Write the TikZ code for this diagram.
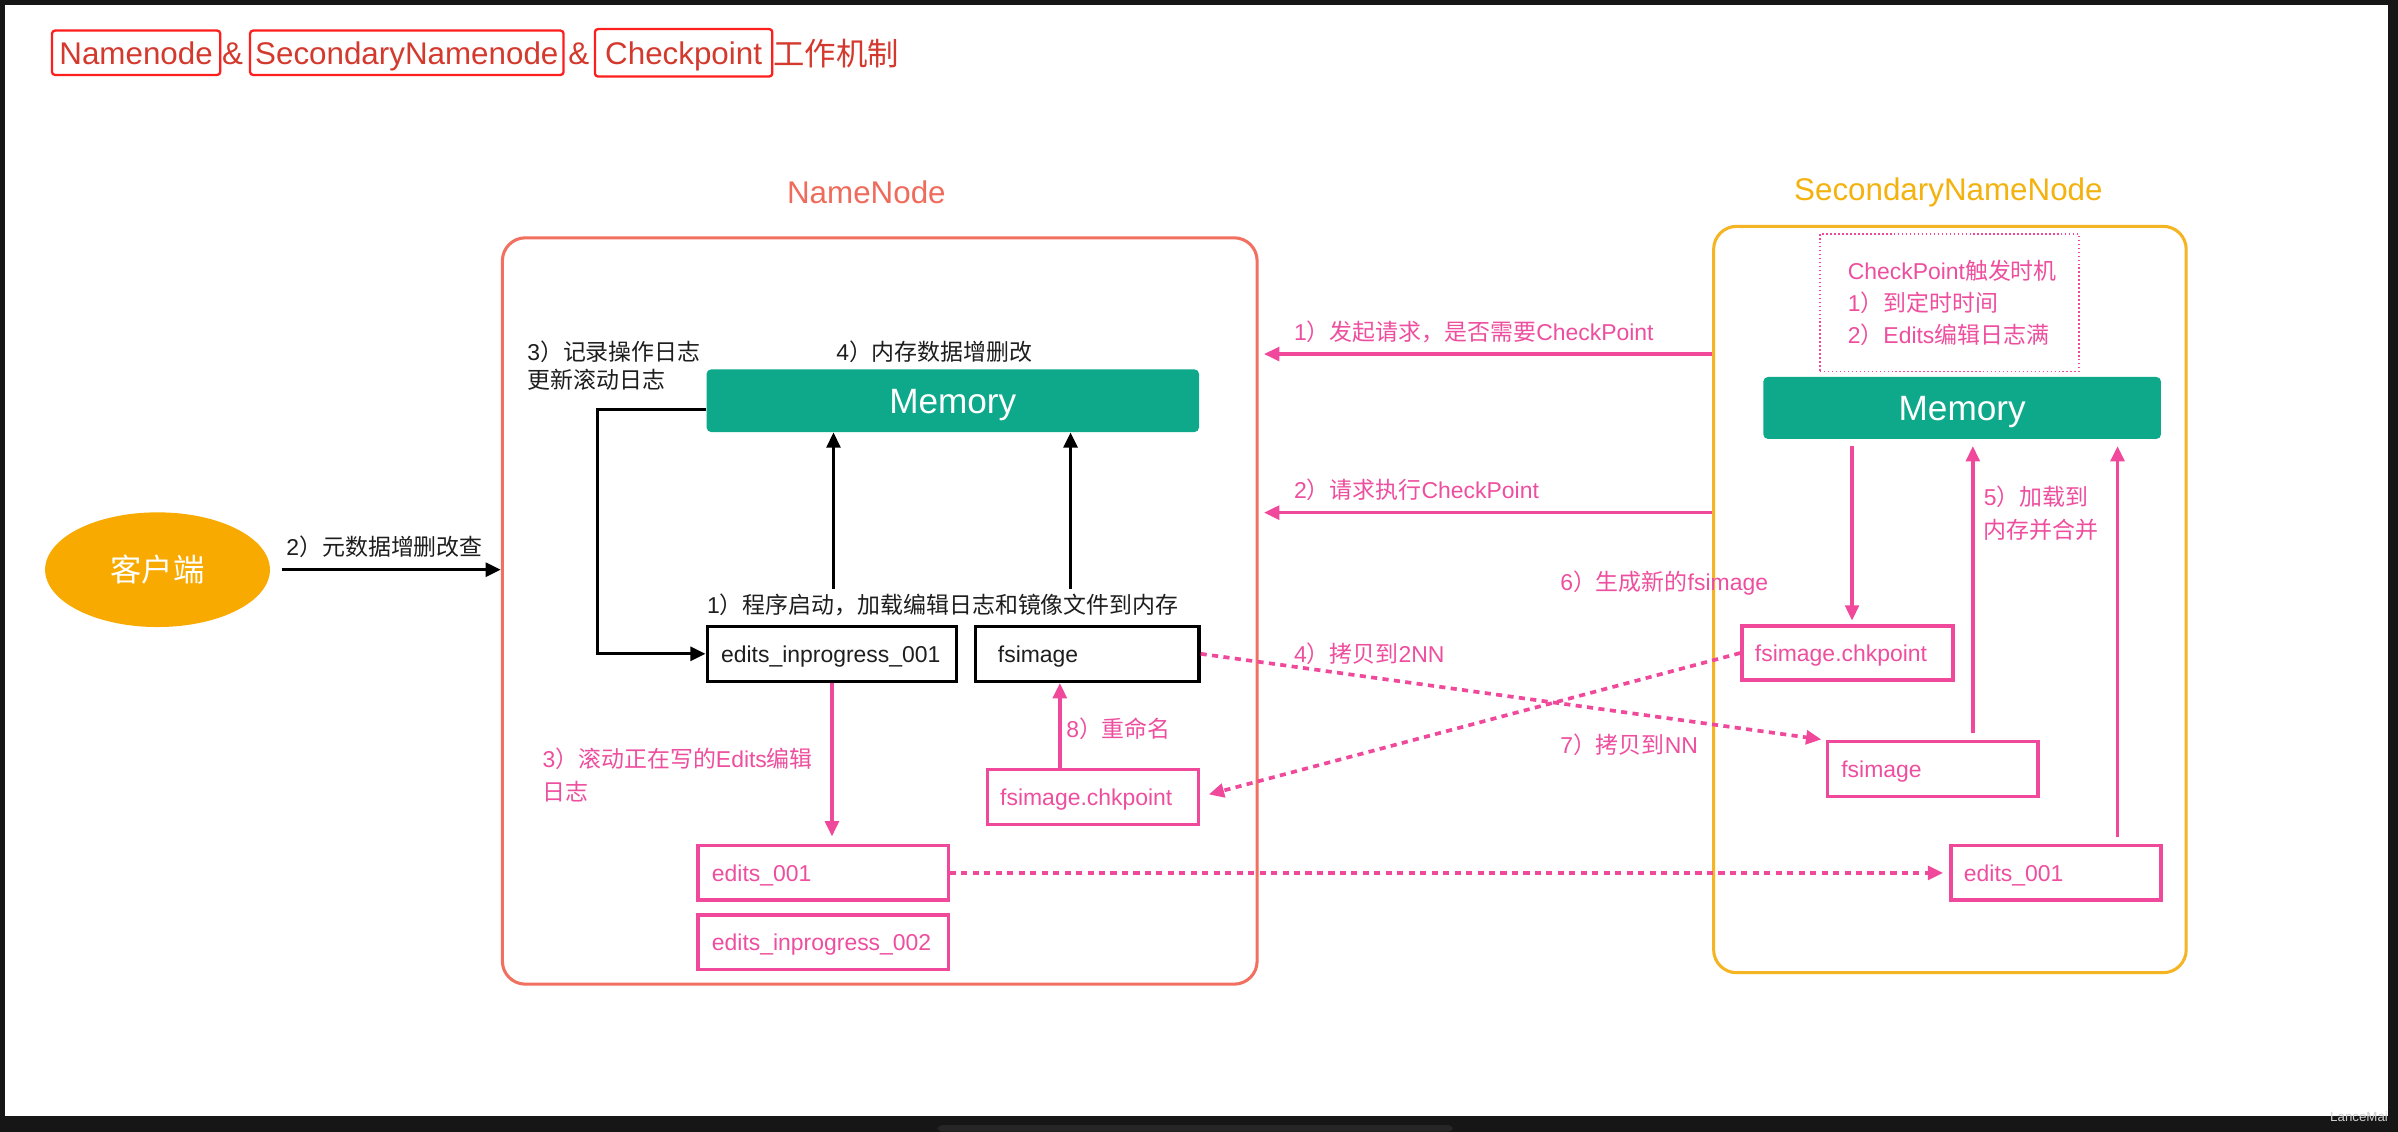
\documentclass[tikz,border=0pt]{standalone}
\usepackage{fontspec}
\setmainfont{Liberation Sans}
\newfontfamily\cjk{Noto Sans CJK SC}
\usetikzlibrary{arrows.meta,calc,shapes.geometric}
\newcommand\cj[1]{{\cjk #1}}
\definecolor{framec}{HTML}{161616}
\definecolor{framed}{HTML}{262626}
\definecolor{nnc}{HTML}{F2705F}
\definecolor{nnt}{HTML}{EF6B5C}
\definecolor{snnc}{HTML}{F5B523}
\definecolor{snnt}{HTML}{F4B20E}
\definecolor{pk}{HTML}{F0489A}
\definecolor{pktxt}{HTML}{EE4E9E}
\definecolor{grn}{HTML}{0DA98A}
\definecolor{cli}{HTML}{F8AA00}
\definecolor{ttl}{HTML}{D4392E}
\definecolor{ttlbox}{HTML}{FF1E1E}
\definecolor{txt}{HTML}{1E1E1E}
\definecolor{wm}{HTML}{CFCFCF}
\tikzset{
  lbl/.style={font=\fontsize{15}{18}\selectfont, text=txt, inner sep=0pt, anchor=base west},
  plbl/.style={lbl, text=pktxt},
  bbox/.style={draw=black, line width=2.2pt, inner xsep=9pt, inner ysep=0pt, minimum height=36pt, align=left, font=\fontsize{15}{18}\selectfont, text=txt, text height=10.8pt, text depth=0pt},
  pbox/.style={bbox, draw=pk, text=pktxt},
  memb/.style={fill=grn, rounded corners=3pt, text=white, font=\fontsize{23}{23}\selectfont, inner sep=0pt, text height=16.5pt, text depth=0pt},
  blk/.style={draw=black, line width=2.2pt, -{Triangle[length=10pt,width=9pt]}},
  pka/.style={draw=pk, line width=2.2pt, -{Triangle[length=10pt,width=9pt]}},
  pkd/.style={pka, line width=2.4pt, dash pattern=on 4pt off 3.5pt},
  ttlb/.style={draw=ttlbox, line width=1.5pt, rounded corners=2pt, text=ttl, font=\fontsize{20.5}{22}\selectfont, inner sep=0pt, minimum height=29pt, text height=14.8pt, text depth=0pt},
  ttlt/.style={text=ttl, font=\fontsize{20.5}{22}\selectfont, inner sep=0pt},
  grp/.style={line width=2pt, rounded corners=15pt, inner sep=0pt}
}
\begin{document}
\begin{tikzpicture}[x=1pt,y=-1pt]
\useasboundingbox (0,0) rectangle (1568,740);
\fill[framec] (0,0) rectangle (1568,740);
\fill[white] (3,3.3) rectangle (1561.5,730);
\fill[framed, rounded corners=3pt] (613,740) -- (613,735.6) -- (950,735.6) -- (950,740) -- cycle;
\node[text=wm, font=\fontsize{8.7}{9}\selectfont, inner sep=0pt, anchor=base east] (wmark) at (1561.6,733.6) {LanceMai};

% title
\node[ttlb, minimum width=110pt] (t1) at (89,34.5) {Namenode};
\node[ttlt] (t2) at (152,35) {\&};
\node[ttlb, minimum width=205pt] (t3) at (266,34.5) {SecondaryNamenode};
\node[ttlt] (t4) at (378.5,35) {\&};
\node[ttlb, minimum width=116pt, minimum height=31pt] (t5) at (447,34.5) {Checkpoint};
\node[ttlt, anchor=west] (t6) at (505.6,35) {\cj{工作机制}};

% group boxes
\node[text=nnt, font=\fontsize{20.5}{22}\selectfont, inner sep=0pt] (nnlab) at (566.5,125.5) {NameNode};
\node[text=snnt, font=\fontsize{20.5}{22}\selectfont, inner sep=0pt] (snnlab) at (1274,125.5) {SecondaryNameNode};
\node[grp, draw=nnc, minimum width=493.5pt, minimum height=488pt] (nnbox) at (575.25,399.5) {};
\node[grp, draw=snnc, minimum width=309pt, minimum height=488pt] (snnbox) at (1275,392) {};

% client
\node[ellipse, fill=cli, minimum width=147pt, minimum height=75pt, inner sep=0pt, text=white, font=\fontsize{20.5}{22}\selectfont] (client) at (103,372.5) {\cj{客户端}};

% NameNode contents
\node[memb, minimum width=322pt, minimum height=41pt] (mem1) at (623,262) {Memory};
\node[bbox, text width=145pt] (eip1) at (544,427.5) {edits\_inprogress\_001};
\node[bbox, inner xsep=14.5pt, text width=117pt] (fs1) at (711,427.5) {fsimage};
\node[pbox, text width=145.5pt, minimum height=35.5pt] (e001) at (538.25,570.75) {edits\_001};
\node[pbox, text width=145.5pt, minimum height=35.5pt] (eip2) at (538.25,616) {edits\_inprogress\_002};
\node[pbox, inner xsep=8.5pt, text width=121pt] (fschk1) at (714.5,521) {fsimage.chkpoint};

% SecondaryNameNode contents
\node[draw=pk, line width=0.9pt, dash pattern=on 1pt off 1.6pt, minimum width=169.5pt, minimum height=90pt, inner sep=0pt] (trig) at (1274.75,198) {};
\node[plbl] (trig1) at (1208,182.9) {CheckPoint\cj{触发时机}};
\node[plbl] (trig2) at (1208,203.6) {1\cj{）到定时时间}};
\node[plbl] (trig3) at (1208,224.9) {2\cj{）}Edits\cj{编辑日志满}};
\node[memb, minimum width=260pt, minimum height=40.5pt] (mem2) at (1283,266.75) {Memory};
\node[pbox, inner xsep=8.5pt, text width=121pt, minimum height=35.3pt] (fschk2) at (1208,427) {fsimage.chkpoint};
\node[pbox, text width=119.6pt] (fs2) at (1263.8,503) {fsimage};
\node[pbox, inner xsep=8.5pt, text width=120.3pt, minimum height=35.6pt] (e001b) at (1344.3,570.75) {edits\_001};

% labels
\node[lbl, anchor=base] (cl) at (251.5,363.3) {2\cj{）元数据增删改查}};
\node[lbl] (rec1) at (344.6,235.5) {3\cj{）记录操作日志}};
\node[lbl] (rec2) at (344.6,254) {\cj{更新滚动日志}};
\node[lbl, anchor=base] (mem4) at (611,235.5) {4\cj{）内存数据增删改}};
\node[lbl, anchor=base] (lab1) at (616.5,401) {1\cj{）程序启动，加载编辑日志和镜像文件到内存}};
\node[plbl] (roll1) at (354.6,501.8) {3\cj{）滚动正在写的}Edits\cj{编辑}};
\node[plbl] (roll2) at (354.6,523.4) {\cj{日志}};
\node[plbl] (ren) at (697,482.1) {8\cj{）重命名}};
\node[plbl] (req1) at (846,222.9) {1\cj{）发起请求，是否需要}CheckPoint};
\node[plbl] (req2) at (846,325.8) {2\cj{）请求执行}CheckPoint};
\node[plbl] (ld1) at (1297,330.8) {5\cj{）加载到}};
\node[plbl] (ld2) at (1297,352) {\cj{内存并合并}};
\node[plbl] (gen) at (1020,386.4) {6\cj{）生成新的}fsimage};
\node[plbl] (cp4) at (846,433) {4\cj{）拷贝到}2NN};
\node[plbl] (cp7) at (1020,492.4) {7\cj{）拷贝到}NN};

% black connectors
\draw[blk, shorten <=7.5pt] (client.east) -- (client.east -| nnbox.west);
\draw[blk] ([yshift=-5.7pt]mem1.west) -- ++(-71,0) |- (eip1.west);
\coordinate (u1) at (545,385);
\coordinate (u2) at (700,385);
\draw[blk] (u1) -- (u1 |- mem1.south);
\draw[blk] (u2) -- (u2 |- mem1.south);

% pink solid connectors
\draw[pka, shorten >=5pt] (eip1.south) -- (eip1.south |- e001.north);
\draw[pka] ([xshift=-21.5pt]fschk1.north) -- ([xshift=-21.5pt]fschk1.north |- fs1.south);
\draw[pka, shorten >=3.5pt] (snnbox.west |- 0,231.5) -- (nnbox.east |- 0,231.5);
\draw[pka, shorten >=3.5pt] (snnbox.west |- 0,335.2) -- (nnbox.east |- 0,335.2);
\draw[pka, shorten <=4.5pt, shorten >=2.5pt] ([xshift=3pt]fschk2.north |- mem2.south) -- ([xshift=3pt]fschk2.north);
\draw[pka, shorten <=4.4pt, shorten >=4.5pt] ([xshift=26.2pt]fs2.north) -- ([xshift=26.2pt]fs2.north |- mem2.south);
\draw[pka, shorten <=4.3pt, shorten >=4.5pt] ([xshift=40.3pt]e001b.north) -- ([xshift=40.3pt]e001b.north |- mem2.south);

% pink dashed connectors
\draw[pkd, shorten >=3pt] (fs1.east) -- (fs2.north west);
\draw[pkd, shorten >=6pt] (fschk2.west) -- (fschk1.east);
\draw[pkd, shorten >=4pt] (e001.east) -- (e001.east -| e001b.west);
\end{tikzpicture}
\end{document}
